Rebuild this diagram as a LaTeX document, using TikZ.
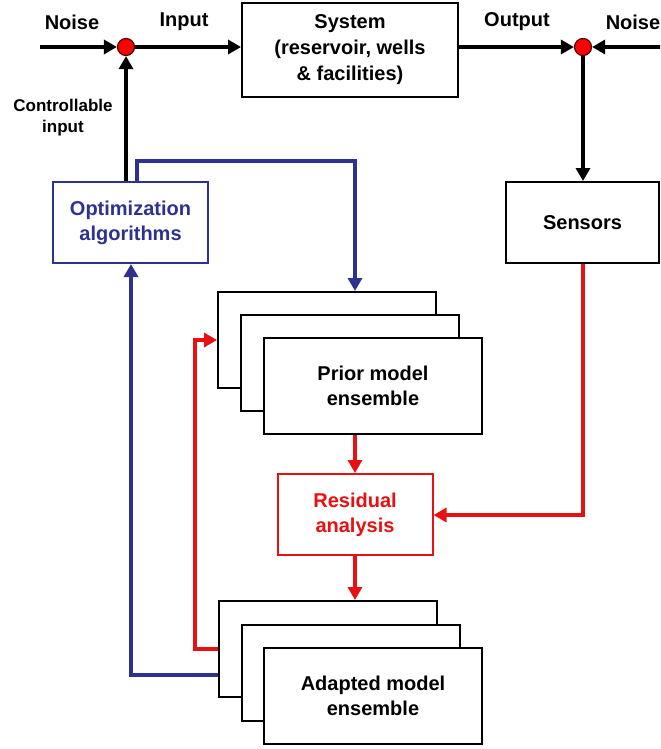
\documentclass[tikz,border=0pt]{standalone}
\usepackage{fontspec}
\setmainfont{Liberation Sans}
\usetikzlibrary{arrows.meta}
\definecolor{myred}{RGB}{232,16,16}
\definecolor{myblue}{RGB}{46,49,146}
\begin{document}
\begin{tikzpicture}[x=0.5pt,y=-0.5pt,
  every node/.style={font=\fontsize{10}{12.5}\selectfont\bfseries, align=center},
  box/.style={draw=black, line width=1pt, fill=white, inner sep=0pt},
  bigbox/.style={box, minimum width=109pt, minimum height=48pt},
  midbox/.style={box, minimum width=77.5pt, minimum height=40.5pt},
  lbl/.style={inner sep=0pt},
  sumpt/.style={circle, draw=black!70!red, line width=0.6pt, fill=red, minimum size=8.5pt, inner sep=0pt},
  blk/.style={draw=black, line width=1.9pt, -{Triangle[length=6.5pt,width=7pt]}},
  redl/.style={draw=myred, line width=1.7pt, -{Triangle[length=6.5pt,width=7pt]}},
  bluel/.style={draw=myblue, line width=1.7pt, -{Triangle[length=6.5pt,width=7pt]}}]
\useasboundingbox (0,0) rectangle (660,749);
\clip (0,0) rectangle (660,749);

% top row
\node[box, minimum width=108pt, minimum height=47pt, font=\fontsize{10}{13}\selectfont\bfseries] (sys) at (350,50) {System\\(reservoir, wells\\\& facilities)};
\node[sumpt] (s1) at (126,47) {};
\node[sumpt] (s2) at (583,47) {};
\coordinate (nl) at (40,47);
\coordinate (nr) at (662,47);
\node[lbl] (noiseL) at (72,22) {Noise};
\node[lbl] (input) at (184,22) {Input};
\node[lbl] (output) at (517,22) {Output};
\node[lbl] (noiseR) at (633,22) {Noise};
\node[lbl, font=\fontsize{8.5}{10.5}\selectfont\bfseries] (ctrl) at (63,118) {Controllable\\input};

\draw[blk] (nl) -- (s1);
\draw[blk] (s1) -- (sys.west |- s1);
\draw[blk] (sys.east |- s2) -- (s2);
\draw[blk] (nr) -- (s2);

% sensors and optimization
\node[midbox, minimum width=76.5pt] (sens) at (582.5,222.5) {Sensors};
\node[midbox, draw=myblue, text=myblue] (opt) at (130.5,222.5) {Optimization\\algorithms};
\draw[blk] (s2) -- (sens.north -| s2);
\draw[blk] (opt.north -| s1) -- (s1);

% prior model ensemble
\node[bigbox] (pb) at (327,340) {};
\node[bigbox] (pm) at (350,363) {};
\node[bigbox] (pf) at (373,386) {Prior model\\ensemble};

% residual
\node[midbox, draw=myred, text=myred] (res) at (355,514.5) {Residual\\analysis};

% adapted model ensemble
\node[bigbox] (ab) at (328,649) {};
\node[bigbox] (am) at (350.5,672.5) {};
\node[bigbox] (af) at (373,696) {Adapted model\\ensemble};

% blue connectors
\coordinate (bo) at (137,161);
\coordinate (bi) at (355,161);
\draw[bluel] (opt.north -| bo) -- (bo) -- (bi) -- (bi |- pb.north);
\coordinate (bl) at (131,675);
\draw[bluel] (ab.west |- bl) -- (bl) -- (bl |- opt.south);

% red connectors
\draw[redl] (pf.south -| res.north) -- (res.north);
\draw[redl] (res.south) -- (ab.north -| res.south);
\coordinate (se) at (583,515);
\draw[redl] (sens.south -| se) -- (se) -- (res.east |- se);
\coordinate (rl) at (195,649);
\draw[redl] (ab.west) -- (rl) -- (rl |- pb.west) -- (pb.west);
\end{tikzpicture}
\end{document}
